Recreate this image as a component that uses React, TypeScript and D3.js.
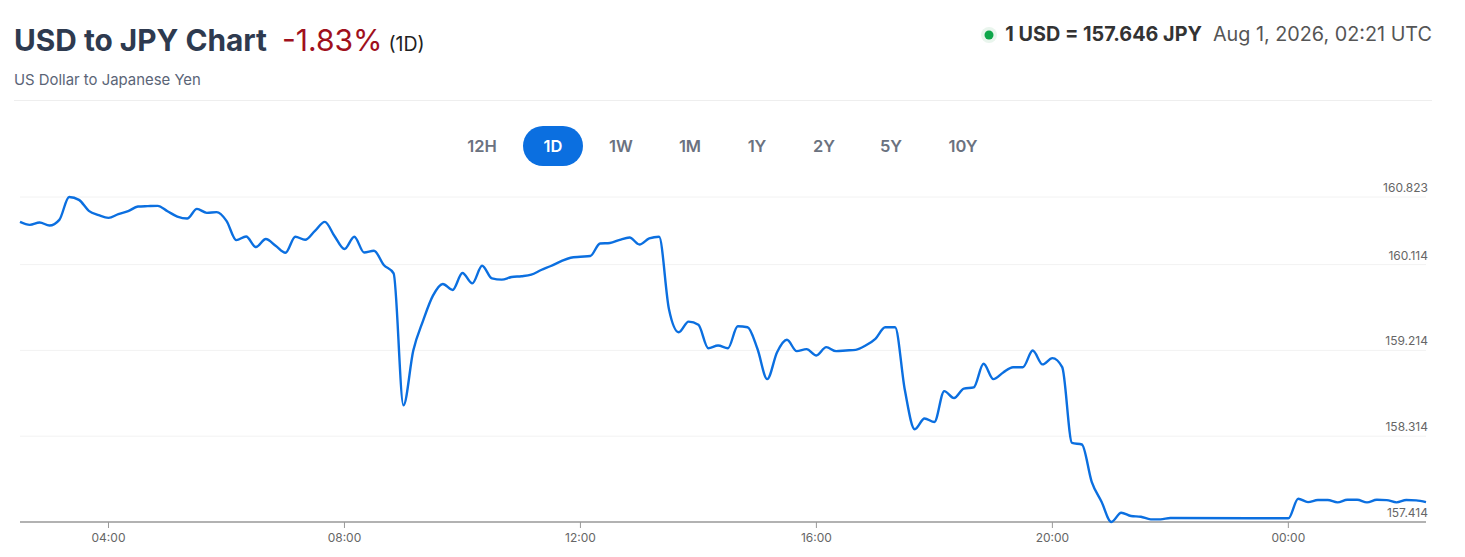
import React from "react";
import * as d3 from "d3";

const times: string[] = [
  "02:30","02:40","02:50","03:00","03:10","03:20","03:30","03:40","03:50","04:00",
  "04:10","04:20","04:30","04:40","04:50","05:00","05:10","05:20","05:30","05:40",
  "05:50","06:00","06:10","06:20","06:30","06:40","06:50","07:00","07:10","07:20",
  "07:30","07:40","07:50","08:00","08:10","08:20","08:30","08:40","08:50","09:00",
  "09:10","09:20","09:30","09:40","09:50","10:00","10:10","10:20","10:30","10:40",
  "10:50","11:00","11:10","11:20","11:30","11:40","11:50","12:00","12:10","12:20",
  "12:30","12:40","12:50","13:00","13:10","13:20","13:30","13:40","13:50","14:00",
  "14:10","14:20","14:30","14:40","14:50","15:00","15:10","15:20","15:30","15:40",
  "15:50","16:00","16:10","16:20","16:30","16:40","16:50","17:00","17:10","17:20",
  "17:30","17:40","17:50","18:00","18:10","18:20","18:30","18:40","18:50","19:00",
  "19:10","19:20","19:30","19:40","19:50","20:00","20:10","20:20","20:30","20:40",
  "20:50","21:00","21:10","21:20","21:30","21:40","21:50","22:00",
  "00:00","00:10","00:20","00:30","00:40","00:50","01:00","01:10","01:20","01:30",
  "01:40","01:50","02:00","02:10","02:20",
];

const rates: number[] = [
  160.562,160.531,160.555,160.524,160.583,160.823,160.793,160.678,160.633,160.604,
  160.643,160.674,160.723,160.727,160.730,160.674,160.618,160.597,160.698,160.657,
  160.664,160.573,160.371,160.409,160.298,160.382,160.311,160.238,160.406,160.374,
  160.468,160.562,160.411,160.277,160.406,160.241,160.259,160.110,160.022,158.638,
  159.213,159.527,159.788,159.911,159.848,160.026,159.917,160.102,159.969,159.956,
  159.984,159.992,160.008,160.057,160.099,160.147,160.186,160.196,160.204,160.335,
  160.340,160.374,160.398,160.325,160.388,160.406,159.649,159.405,159.516,159.482,
  159.237,159.265,159.237,159.467,159.457,159.231,158.913,159.195,159.325,159.206,
  159.227,159.161,159.248,159.206,159.213,159.220,159.265,159.336,159.457,159.457,
  158.795,158.387,158.499,158.463,158.787,158.714,158.813,158.826,159.074,158.913,
  158.983,159.038,159.038,159.213,159.067,159.133,159.038,158.243,158.227,157.836,
  157.626,157.414,157.511,157.477,157.469,157.442,157.442,157.456,
  157.453,157.658,157.623,157.644,157.644,157.620,157.647,157.647,157.620,157.647,
  157.644,157.620,157.644,157.641,157.623,
];

const yTicks: number[] = [157.414, 158.314, 159.214, 160.114, 160.823];
const xTickLabels: string[] = ["04:00", "08:00", "12:00", "16:00", "20:00", "00:00"];
const ranges: string[] = ["12H", "1D", "1W", "1M", "1Y", "2Y", "5Y", "10Y"];
const activeRange = "1D";

const W = 1465;
const H = 557;
const M = { left: 20, right: 1426, top: 196, bottom: 522 };
const FONT = "Inter, 'Noto Sans', sans-serif";
const BTN_CENTERS = [482, 553, 621, 690, 757, 824, 891, 963];

function parseSeries() {
  let day = 31;
  let prev = -1;
  return times.map((t, i) => {
    const [h, m] = t.split(":").map(Number);
    const mins = h * 60 + m;
    if (mins < prev) day += 1;
    prev = mins;
    return { date: new Date(Date.UTC(2026, 6, day, h, m)), value: rates[i] };
  });
}

export default function App() {
  const data = parseSeries();
  const x = d3
    .scaleUtc()
    .domain(d3.extent(data, (d) => d.date) as [Date, Date])
    .range([M.left, M.right]);
  const y = d3
    .scaleLinear()
    .domain([d3.min(yTicks)!, d3.max(yTicks)!])
    .range([M.bottom, M.top + 1]);

  const line = d3
    .line<{ date: Date; value: number }>()
    .x((d) => x(d.date))
    .y((d) => y(d.value))
    .curve(d3.curveMonotoneX);

  const xTicks = xTickLabels.map((lab) => {
    const [h, m] = lab.split(":").map(Number);
    const day = h < 2 ? 32 : 31;
    return { lab, date: new Date(Date.UTC(2026, 6, day, h, m)) };
  });

  return (
    <svg
      width={W}
      height={H}
      style={{ position: "absolute", left: 0, top: 0, display: "block", background: "#fff" }}
      fontFamily={FONT}
    >
      {/* Header */}
      <text x={14} y={51} fontSize={29.8} fontWeight={700} fill="#2e3a4f">
        USD to JPY Chart
        <tspan dx={15} fontWeight={400} fill="#a0101c" fontSize={30}>-1.83%</tspan>
        <tspan dx={6} fontWeight={400} fill="#222" fontSize={19.5}>(1D)</tspan>
      </text>
      <text x={14} y={85} fontSize={14.9} fill="#5b6577">US Dollar to Japanese Yen</text>

      <circle cx={989} cy={35} r={8} fill="#e9f5ed" />
      <circle cx={989} cy={35} r={4.5} fill="#0ea64a" />
      <text x={1432} y={41} fontSize={19.8} textAnchor="end" fill="#333">
        <tspan fontWeight={700} fill="#333">1 USD = 157.646 JPY</tspan>
        <tspan dx={11} fill="#555">Aug 1, 2026, 02:21 UTC</tspan>
      </text>

      <line x1={14} x2={1432} y1={100.5} y2={100.5} stroke="#eeeeee" />

      {/* Range buttons */}
      {ranges.map((r, i) => {
        const cx = BTN_CENTERS[i];
        const active = r === activeRange;
        return (
          <g key={r}>
            {active && (
              <rect x={cx - 30} y={126} width={60} height={40} rx={20} fill="#0b6fe0" />
            )}
            <text
              x={cx}
              y={152}
              fontSize={16.5}
              fontWeight={600}
              textAnchor="middle"
              fill={active ? "#ffffff" : "#6b7280"}
            >
              {r}
            </text>
          </g>
        );
      })}

      {/* Grid */}
      {yTicks.map((t) => (
        <g key={t}>
          {t !== yTicks[0] && (
            <line x1={M.left} x2={M.right} y1={y(t)} y2={y(t)} stroke="#f2f2f2" />
          )}
          <text x={1428} y={y(t) - 5} fontSize={12} textAnchor="end" fill="#666">
            {t.toFixed(3)}
          </text>
        </g>
      ))}

      {/* X axis */}
      <line x1={M.left} x2={M.right} y1={M.bottom} y2={M.bottom} stroke="#999" strokeWidth={1.5} />
      {xTicks.map((t) => (
        <g key={t.lab} transform={`translate(${x(t.date)},0)`}>
          <line y1={M.bottom} y2={M.bottom + 6} stroke="#999" />
          <text y={542} fontSize={12} textAnchor="middle" fill="#666">
            {t.lab}
          </text>
        </g>
      ))}

      {/* Line */}
      <path d={line(data) || ""} fill="none" stroke="#0b6fe0" strokeWidth={2.4} strokeLinejoin="round" />
    </svg>
  );
}
